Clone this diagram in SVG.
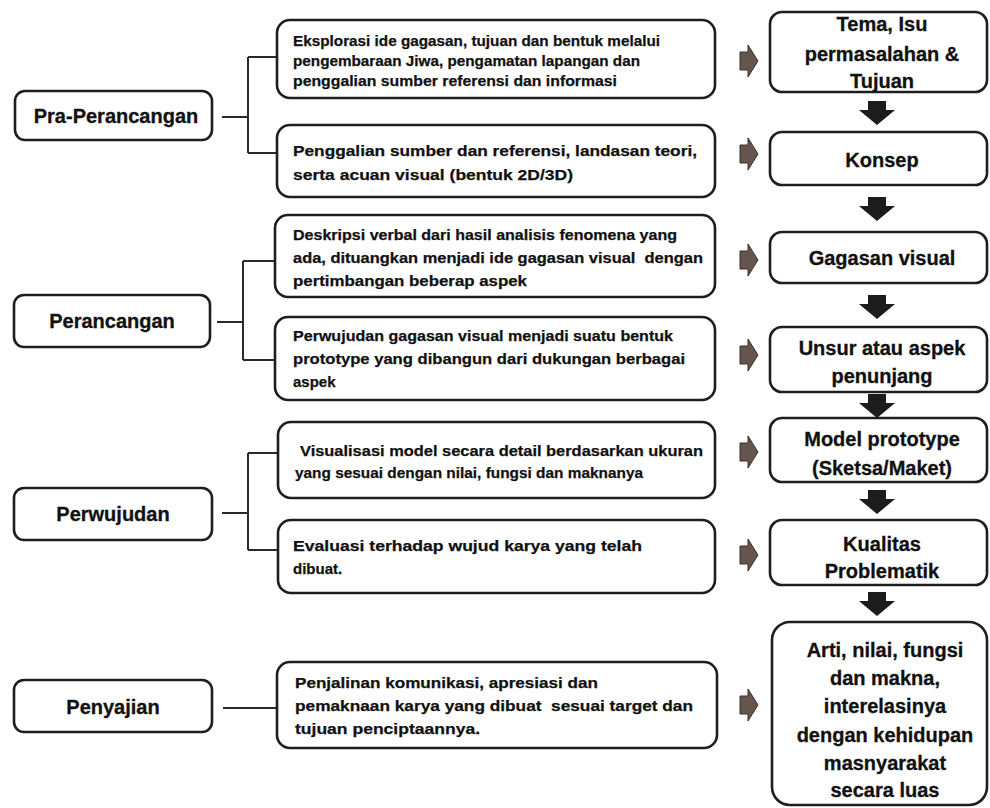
<svg xmlns="http://www.w3.org/2000/svg" width="990" height="808" viewBox="0 0 990 808">
<style>
.box{fill:#fff;stroke:#1e1e1e;stroke-width:2.6}
.lbl{font-family:"Liberation Sans",Arial,sans-serif;font-weight:700;font-size:20px;fill:#111;text-anchor:middle;stroke:#111;stroke-width:0.3}
.mid{font-family:"Liberation Sans",Arial,sans-serif;font-weight:700;font-size:15px;fill:#111;stroke:#111;stroke-width:0.25}
.rt{font-family:"Liberation Sans",Arial,sans-serif;font-weight:700;font-size:20px;fill:#111;text-anchor:middle;stroke:#111;stroke-width:0.3}
.con{fill:none;stroke:#2a2a2a;stroke-width:2}
.ra{fill:#66554d;stroke:#3a302b;stroke-width:1}
.da{fill:#1c1c1c}
</style>
<defs>
<path id="rarrow" d="M0,-9 H8 V-16 L18,0 L8,16 V9 H0 Z"/>
<path id="darrow" d="M-9,0 H9 V9 H18 L0,24 L-18,9 H-9 Z"/>
</defs>
<rect width="990" height="808" fill="#fff"/>

<g id="connectors">
<path class="con" d="M222,117 H248 M248,57 V153 M248,57 H277 M248,153 H277"/>
<path class="con" d="M217,322 H243 M243,261 V360 M243,261 H275 M243,360 H275"/>
<path class="con" d="M222,513 H248 M248,453 V550 M248,453 H278 M248,550 H278"/>
<path class="con" d="M223,708 H277"/>
<use href="#rarrow" class="ra" x="740" y="61"/>
<use href="#rarrow" class="ra" x="740" y="154"/>
<use href="#rarrow" class="ra" x="740" y="260"/>
<use href="#rarrow" class="ra" x="740" y="355"/>
<use href="#rarrow" class="ra" x="740" y="452"/>
<use href="#rarrow" class="ra" x="740" y="555"/>
<use href="#rarrow" class="ra" x="740" y="705"/>
<use href="#darrow" class="da" x="877" y="101"/>
<use href="#darrow" class="da" x="877" y="197"/>
<use href="#darrow" class="da" x="877" y="295"/>
<use href="#darrow" class="da" x="877" y="394"/>
<use href="#darrow" class="da" x="877" y="490"/>
<use href="#darrow" class="da" x="877" y="592"/>
</g>

<g id="pra-perancangan">
<rect class="box" x="15" y="91" width="197" height="49" rx="10"/>
<text class="lbl" x="116" y="123">Pra-Perancangan</text>
</g>
<g id="perancangan">
<rect class="box" x="14" y="295" width="196" height="52" rx="10"/>
<text class="lbl" x="112" y="328">Perancangan</text>
</g>
<g id="perwujudan">
<rect class="box" x="14" y="488" width="198" height="52" rx="10"/>
<text class="lbl" x="113" y="521">Perwujudan</text>
</g>
<g id="penyajian">
<rect class="box" x="14" y="680" width="198" height="52" rx="10"/>
<text class="lbl" x="113" y="714">Penyajian</text>
</g>

<g id="eksplorasi">
<rect class="box" x="277" y="20" width="438" height="78" rx="13"/>
<text class="mid" x="293" y="46" textLength="367" lengthAdjust="spacingAndGlyphs">Eksplorasi ide gagasan, tujuan dan bentuk melalui</text>
<text class="mid" x="293" y="66" textLength="347" lengthAdjust="spacingAndGlyphs">pengembaraan Jiwa, pengamatan lapangan dan</text>
<text class="mid" x="293" y="86" textLength="324" lengthAdjust="spacingAndGlyphs">penggalian sumber referensi dan informasi</text>
</g>
<g id="penggalian">
<rect class="box" x="277" y="125" width="438" height="72" rx="13"/>
<text class="mid" x="293" y="156" textLength="404" lengthAdjust="spacingAndGlyphs">Penggalian sumber dan referensi, landasan teori,</text>
<text class="mid" x="293" y="180" textLength="280" lengthAdjust="spacingAndGlyphs">serta acuan visual (bentuk 2D/3D)</text>
</g>
<g id="deskripsi">
<rect class="box" x="275" y="215" width="440" height="82" rx="13"/>
<text class="mid" x="293" y="240" textLength="384" lengthAdjust="spacingAndGlyphs">Deskripsi verbal dari hasil analisis fenomena yang</text>
<text class="mid" x="293" y="263" textLength="410" lengthAdjust="spacingAndGlyphs" xml:space="preserve">ada, dituangkan menjadi ide gagasan visual  dengan</text>
<text class="mid" x="293" y="286" textLength="234" lengthAdjust="spacingAndGlyphs">pertimbangan beberap aspek</text>
</g>
<g id="perwujudan-gagasan">
<rect class="box" x="275" y="317" width="440" height="83" rx="13"/>
<text class="mid" x="293" y="341" textLength="380" lengthAdjust="spacingAndGlyphs">Perwujudan gagasan visual menjadi suatu bentuk</text>
<text class="mid" x="293" y="364" textLength="392" lengthAdjust="spacingAndGlyphs">prototype yang dibangun dari dukungan berbagai</text>
<text class="mid" x="293" y="387">aspek</text>
</g>
<g id="visualisasi">
<rect class="box" x="278" y="422" width="437" height="76" rx="13"/>
<text class="mid" x="300" y="456" textLength="403" lengthAdjust="spacingAndGlyphs">Visualisasi model secara detail berdasarkan ukuran</text>
<text class="mid" x="295" y="478" textLength="348" lengthAdjust="spacingAndGlyphs">yang sesuai dengan nilai, fungsi dan maknanya</text>
</g>
<g id="evaluasi">
<rect class="box" x="278" y="520" width="437" height="73" rx="13"/>
<text class="mid" x="293" y="551" textLength="349" lengthAdjust="spacingAndGlyphs">Evaluasi terhadap wujud karya yang telah</text>
<text class="mid" x="293" y="574">dibuat.</text>
</g>
<g id="penjalinan">
<rect class="box" x="277" y="662" width="440" height="86" rx="13"/>
<text class="mid" x="295" y="688" textLength="303" lengthAdjust="spacingAndGlyphs">Penjalinan komunikasi, apresiasi dan</text>
<text class="mid" x="295" y="711" textLength="398" lengthAdjust="spacingAndGlyphs" xml:space="preserve">pemaknaan karya yang dibuat  sesuai target dan</text>
<text class="mid" x="295" y="734" textLength="185" lengthAdjust="spacingAndGlyphs">tujuan penciptaannya.</text>
</g>

<g id="tema">
<rect class="box" x="770" y="12" width="217" height="80" rx="12"/>
<text class="rt" x="882" y="31">Tema, Isu</text>
<text class="rt" x="882" y="61">permasalahan &amp;</text>
<text class="rt" x="882" y="88">Tujuan</text>
</g>
<g id="konsep">
<rect class="box" x="770" y="132" width="217" height="53" rx="12"/>
<text class="rt" x="882" y="167">Konsep</text>
</g>
<g id="gagasan-visual">
<rect class="box" x="770" y="232" width="217" height="51" rx="12"/>
<text class="rt" x="882" y="265">Gagasan visual</text>
</g>
<g id="unsur">
<rect class="box" x="770" y="327" width="217" height="65" rx="12"/>
<text class="rt" x="882" y="355">Unsur atau aspek</text>
<text class="rt" x="882" y="383">penunjang</text>
</g>
<g id="model-prototype">
<rect class="box" x="770" y="418" width="217" height="64" rx="12"/>
<text class="rt" x="882" y="446">Model prototype</text>
<text class="rt" x="882" y="475">(Sketsa/Maket)</text>
</g>
<g id="kualitas">
<rect class="box" x="770" y="520" width="217" height="65" rx="12"/>
<text class="rt" x="882" y="551">Kualitas</text>
<text class="rt" x="882" y="578">Problematik</text>
</g>
<g id="arti">
<rect class="box" x="772" y="622" width="215" height="183" rx="18"/>
<text class="rt" x="885" y="657">Arti, nilai, fungsi</text>
<text class="rt" x="885" y="685">dan makna,</text>
<text class="rt" x="885" y="713">interelasinya</text>
<text class="rt" x="885" y="742">dengan kehidupan</text>
<text class="rt" x="885" y="770">masnyarakat</text>
<text class="rt" x="885" y="797">secara luas</text>
</g>
</svg>
